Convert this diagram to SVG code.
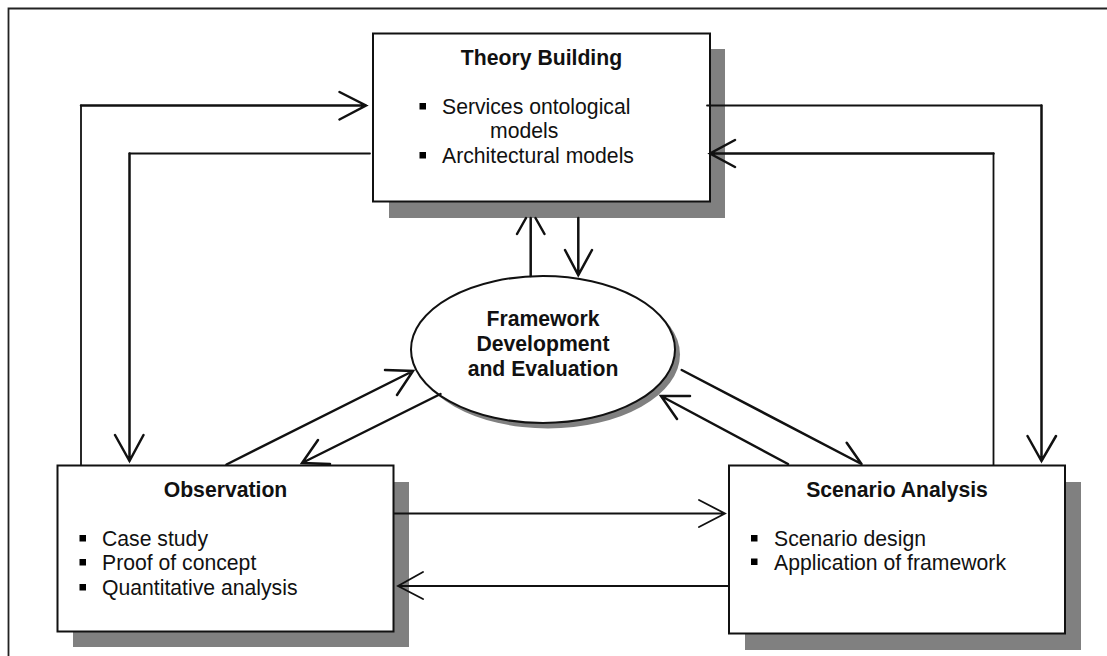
<svg xmlns="http://www.w3.org/2000/svg" width="1107" height="656" viewBox="0 0 1107 656">
<style>
text{font-family:"Liberation Sans",Arial,sans-serif;font-size:21.200px;fill:#111}
.t{font-weight:bold;text-anchor:middle}
.b{fill:#fff;stroke:#111;stroke-width:2}
.s{fill:#808080}
.c{fill:none;stroke:#111;stroke-width:2.500;stroke-linecap:round;stroke-linejoin:miter}
.n{stroke-width:1.800}
</style>
<rect width="1107" height="656" fill="#fff"/>
<path id="frame" d="M8.500 656V8.500H1107" fill="none" stroke="#222" stroke-width="1.800"/>
<g id="theory"><rect class="s" x="389" y="49" width="336" height="169"/><rect class="b" x="373" y="33.500" width="337" height="168"/>
<text class="t" x="541.500" y="65">Theory Building</text>
<rect x="419.500" y="103" width="6.500" height="6.500"/><text x="442" y="114">Services ontological</text>
<text x="490" y="138">models</text>
<rect x="419.500" y="152" width="6.500" height="6.500"/><text x="442" y="163">Architectural models</text></g>
<g id="framework"><ellipse cx="548" cy="354.500" rx="132" ry="74" fill="#808080"/><ellipse class="b" cx="543" cy="349.500" rx="132" ry="73.500"/>
<text class="t" x="543" y="326">Framework</text><text class="t" x="543" y="351">Development</text><text class="t" x="543" y="376">and Evaluation</text></g>
<g id="observation"><rect class="s" x="73" y="482" width="336" height="165"/><rect class="b" x="57.500" y="465.500" width="336" height="166"/>
<text class="t" x="225.500" y="497">Observation</text>
<rect x="79.500" y="535" width="6.500" height="6.500"/><text x="102" y="546">Case study</text>
<rect x="79.500" y="559" width="6.500" height="6.500"/><text x="102" y="570">Proof of concept</text>
<rect x="79.500" y="584" width="6.500" height="6.500"/><text x="102" y="595">Quantitative analysis</text></g>
<g id="scenario"><rect class="s" x="745" y="482" width="336" height="168"/><rect class="b" x="729" y="465.500" width="336" height="168"/>
<text class="t" x="897" y="497">Scenario Analysis</text>
<rect x="751" y="535" width="6.500" height="6.500"/><text x="774" y="546">Scenario design</text>
<rect x="751" y="558.500" width="6.500" height="6.500"/><text x="774" y="570">Application of framework</text></g>
<g id="connectors">
<path class="c n" d="M81 465V105.500"/><path class="c" d="M81 105.500H366M339.500 92L366 105.500L339.500 119.500"/>
<path class="c n" d="M370 153.500H129.500"/><path class="c" d="M129.500 153.500V461M115 435L129.500 461L143.500 435"/>
<path class="c n" d="M707 105.500H1041.500"/><path class="c" d="M1041.500 105.500V461M1027.500 436L1041.500 461L1056 436"/>
<path class="c n" d="M993.500 465V153.500"/><path class="c" d="M993.500 153.500H710M735 140L710 153.500L735 167"/>
<path class="c" d="M530.700 276V218M517 234L526 218M544.500 234L535.500 218"/>
<path class="c" d="M578.300 218V275M565 250L578.300 275L592 250"/>
<path class="c" d="M226.500 464.500L413 371M385 370L413 371L397 395"/>
<path class="c" d="M440.500 394L302 463M318 440L302 463L330 464"/>
<path class="c" d="M681.700 370L861.500 464M846.700 442.700L861.500 464"/>
<path class="c" d="M788 464L661 396M690 396L661 396L677 419"/>
<path class="c n" d="M394 513.500H725M699 500L725 513.500L699 527"/>
<path class="c n" d="M729 586H398M423 572L398 586L423 599"/>
</g>
</svg>
